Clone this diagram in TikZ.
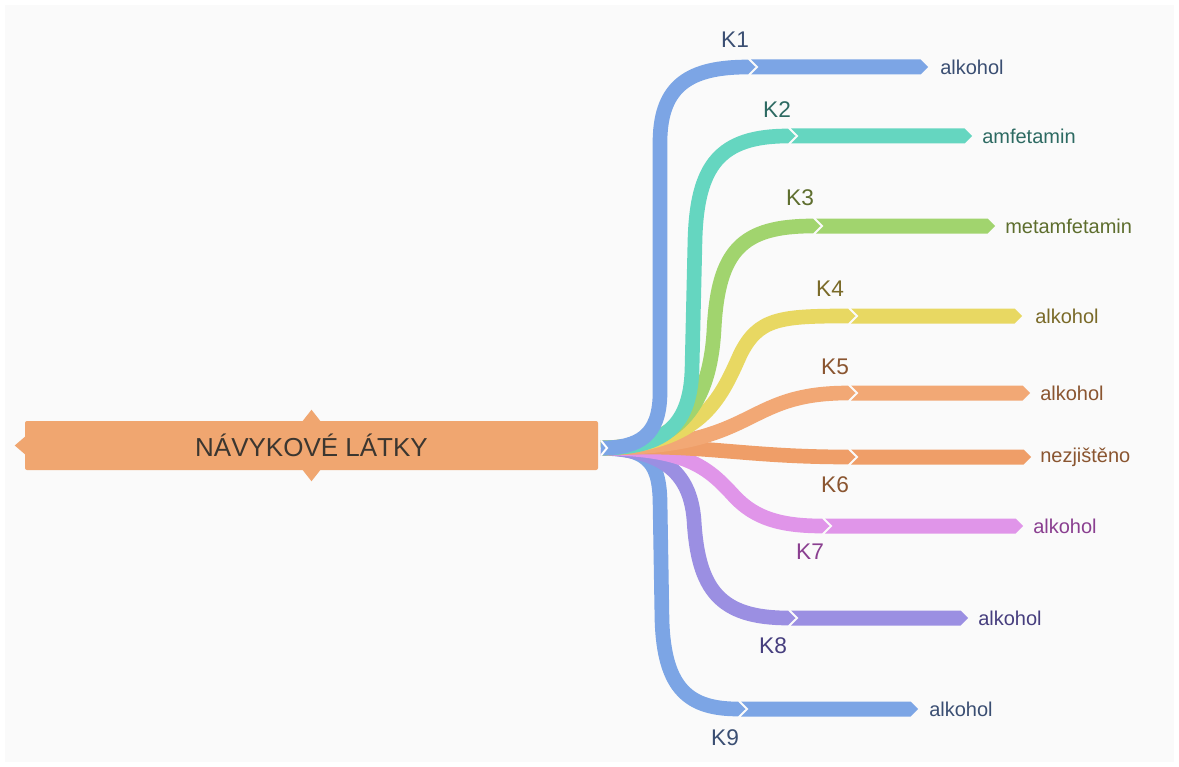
\documentclass[tikz,border=0pt]{standalone}
\usepackage{fontspec}
\setmainfont{Liberation Sans}
\usetikzlibrary{calc}
\definecolor{bgc}{HTML}{FAFAFA}
\definecolor{hubc}{HTML}{F0A670}
\definecolor{cblue}{HTML}{7CA5E5}
\definecolor{cteal}{HTML}{65D6C0}
\definecolor{cgreen}{HTML}{A1D46E}
\definecolor{cyellow}{HTML}{E8D862}
\definecolor{corange}{HTML}{F2A875}
\definecolor{corangeb}{HTML}{EF9E68}
\definecolor{cpink}{HTML}{E095E9}
\definecolor{cpurple}{HTML}{9B8FE2}
\definecolor{tblue}{HTML}{3A4E72}
\definecolor{tteal}{HTML}{2D6A62}
\definecolor{tgreen}{HTML}{5E6E2E}
\definecolor{tyellow}{HTML}{7A6A28}
\definecolor{torange}{HTML}{8A5530}
\definecolor{tpink}{HTML}{8A3F90}
\definecolor{tpurple}{HTML}{463E7E}
\definecolor{thub}{HTML}{3B3630}
\newcommand\mmbar[2]{%
  \fill[#2] ($(#1e)+(0,-7.4)$) -- ($(#1e)+(7.5,0)$) -- ($(#1e)+(0,7.4)$) -- cycle;
  \fill[#2] ($(#1e)+(3,-7.5)$) -- ($(#1t)+(-7.5,-7.5)$) -- (#1t) -- ($(#1t)+(-7.5,7.5)$) -- ($(#1e)+(3,7.5)$) -- ($(#1e)+(10.5,0)$) -- cycle;
}
\begin{document}
\begin{tikzpicture}[x=0.75pt,y=-0.75pt,
  ribbon/.style={draw=#1, line width=11pt, line cap=butt},
  klabel/.style={font=\fontsize{17}{19}\selectfont, text=#1, inner sep=0pt},
  leaf/.style={anchor=west, font=\fontsize{15}{17}\selectfont, text=#1, inner sep=0pt},
  hubbox/.style={fill=hubc, rounded corners=1.5pt, minimum width=429.75pt, minimum height=36.75pt, inner sep=0pt, text=thub, font=\fontsize{19.5}{22}\selectfont}]
\useasboundingbox (0,0) rectangle (1179,767);
\fill[white] (0,0) rectangle (1179,767);
\fill[bgc] (5,5) rectangle (1174,762);

% hub
\node[hubbox] (hub) at (311.5,445.5) {NÁVYKOVÉ LÁTKY};
\fill[hubc] ($(hub.west)+(0.5,-9)$) -- ($(hub.west)+(-10,0)$) -- ($(hub.west)+(0.5,9)$) -- cycle;
\fill[hubc] ($(hub.north)+(-9,0.5)$) -- ($(hub.north)+(0,-11)$) -- ($(hub.north)+(9,0.5)$) -- cycle;
\fill[hubc] ($(hub.south)+(-9,-0.5)$) -- ($(hub.south)+(0,11)$) -- ($(hub.south)+(9,-0.5)$) -- cycle;

\coordinate (root) at (601,448);
\foreach \n/\xe/\xt/\y in {k1/748/928/67, k2/788/972/136, k3/813/995/226, k4/848/1022/316, k5/848/1030/393, k6/848/1031/457, k7/822/1023/526, k8/788/968/618, k9/738/918/709}{
  \coordinate (\n e) at (\xe,\y);
  \coordinate (\n t) at (\xt,\y);
}

% ribbons
\draw[ribbon=cblue] (root) .. controls (645,448) and (659,460) .. (660,500) -- (662,620) .. controls (664,690) and (690,709) .. (k9e);
\draw[ribbon=cpurple] (root) .. controls (660,450) and (690,470) .. (694,520) .. controls (698,590) and (720,618) .. (k8e);
\draw[ribbon=cpink] (root) .. controls (690,448) and (710,470) .. (735,497) .. controls (755,518) and (780,526) .. (k7e);
\draw[ribbon=corangeb] (root) .. controls (700,443) and (740,457) .. (k6e);
\draw[ribbon=corange] (root) .. controls (760,448) and (740,393) .. (k5e);
\draw[ribbon=cyellow] (root) .. controls (700,445) and (720,400) .. (740,355) .. controls (758,318) and (780,316) .. (k4e);
\draw[ribbon=cgreen] (root) .. controls (682,448) and (710,400) .. (714,330) .. controls (718,250) and (742,226) .. (k3e);
\draw[ribbon=cteal] (root) .. controls (660,448) and (690,430) .. (692,370) -- (695,240) .. controls (697,165) and (720,136) .. (k2e);
\draw[ribbon=cblue] (root) .. controls (640,448) and (659,435) .. (660,395) -- (660,140) .. controls (661,85) and (690,67) .. (k1e);
\draw[white, line width=1.5pt] ($(root)+(0,-7.5)$) -- ($(root)+(6,0)$) -- ($(root)+(0,7.5)$);

% bars
\mmbar{k1}{cblue}
\mmbar{k2}{cteal}
\mmbar{k3}{cgreen}
\mmbar{k4}{cyellow}
\mmbar{k5}{corange}
\mmbar{k6}{corangeb}
\mmbar{k7}{cpink}
\mmbar{k8}{cpurple}
\mmbar{k9}{cblue}

% K labels
\node[klabel=tblue] (K1) at (735,40) {K1};
\node[klabel=tteal] (K2) at (777,110) {K2};
\node[klabel=tgreen] (K3) at (800,198) {K3};
\node[klabel=tyellow] (K4) at (830,289) {K4};
\node[klabel=torange] (K5) at (835,367) {K5};
\node[klabel=torange] (K6) at (835,485) {K6};
\node[klabel=tpink] (K7) at (810,552) {K7};
\node[klabel=tpurple] (K8) at (773,646) {K8};
\node[klabel=tblue] (K9) at (725,738) {K9};

% leaf labels
\node[leaf=tblue] (l1) at (940,67) {alkohol};
\node[leaf=tteal] (l2) at (982,136) {amfetamin};
\node[leaf=tgreen] (l3) at (1005,226) {metamfetamin};
\node[leaf=tyellow] (l4) at (1035,316) {alkohol};
\node[leaf=torange] (l5) at (1040,393) {alkohol};
\node[leaf=torange] (l6) at (1040,457) {nezjištěno};
\node[leaf=tpink] (l7) at (1033,526) {alkohol};
\node[leaf=tpurple] (l8) at (978,618) {alkohol};
\node[leaf=tblue] (l9) at (929,709) {alkohol};
\end{tikzpicture}
\end{document}
